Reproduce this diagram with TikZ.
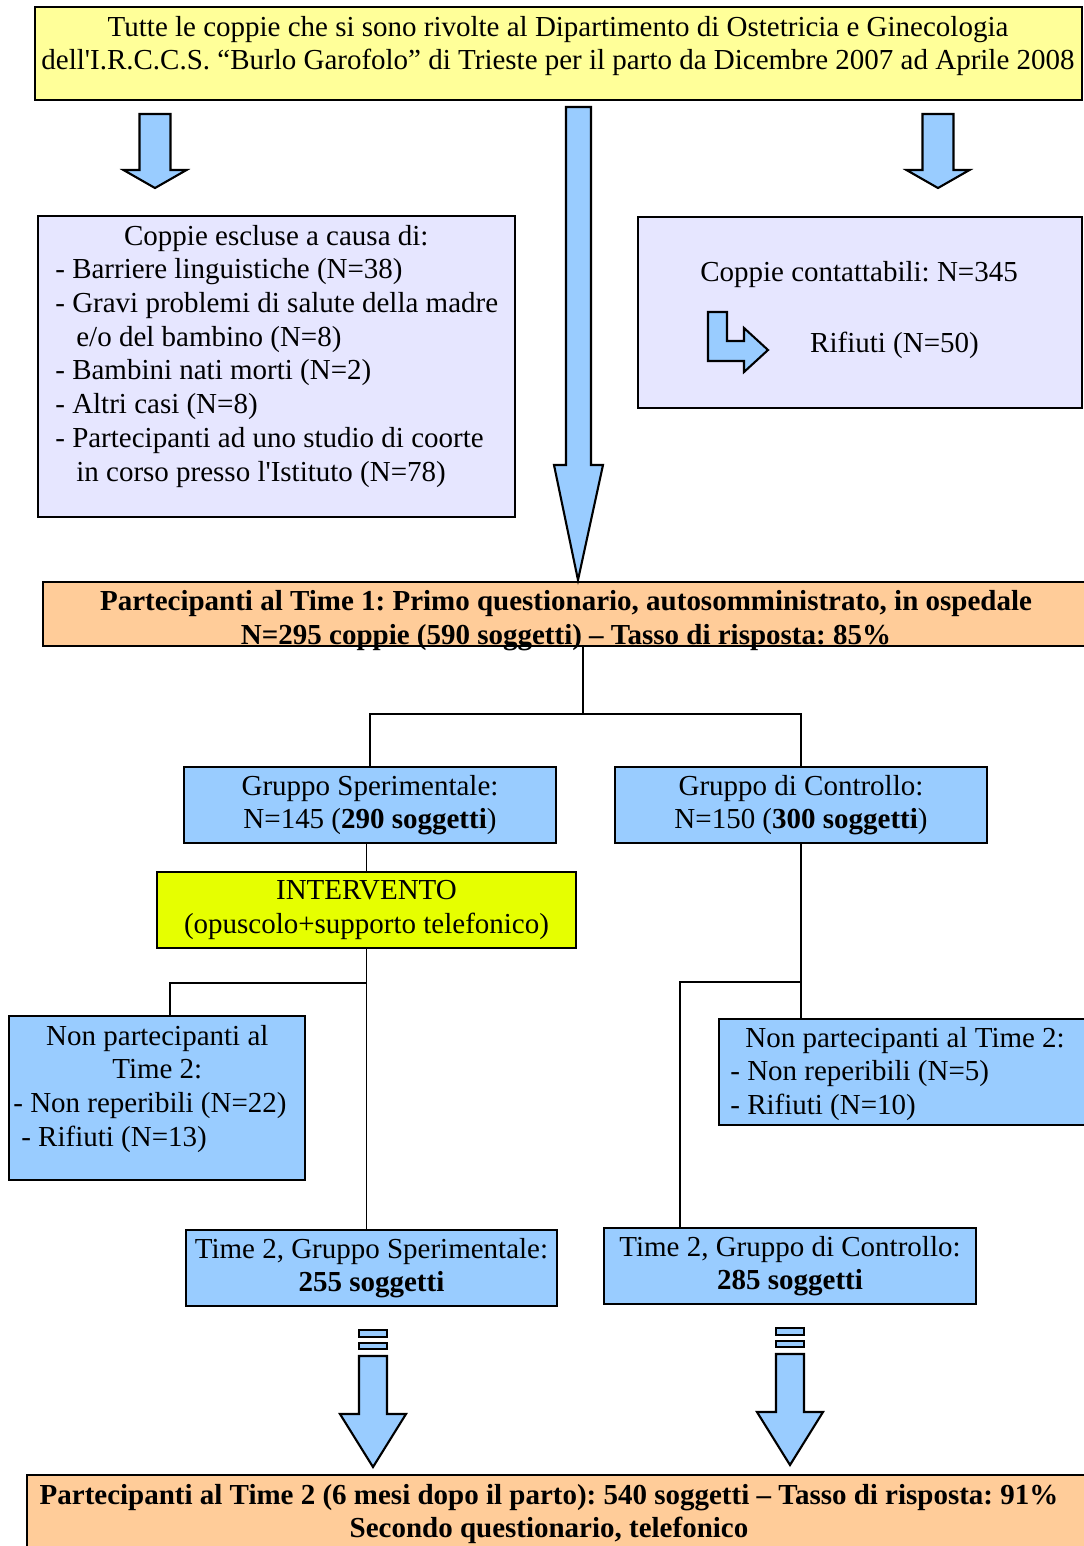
\documentclass[tikz,border=0pt]{standalone}
\usepackage{fontspec}
\setmainfont{Liberation Serif}
\usetikzlibrary{positioning}
\definecolor{pale}{HTML}{FFFF99}
\definecolor{lilac}{HTML}{E6E6FF}
\definecolor{peach}{HTML}{FFCC99}
\definecolor{sky}{HTML}{99CCFF}
\definecolor{lime}{HTML}{E6FF00}
\newcommand{\flowfont}{\fontsize{16.5}{19.2}\selectfont}
\frenchspacing

\begin{document}
\begin{tikzpicture}[x=0.02cm, y=-0.02cm,
    box/.style={draw, line width=1.2pt, inner sep=0pt, align=center, font=\flowfont},
    txt/.style={inner sep=0pt, align=center, font=\flowfont},
    conn/.style={line width=0.9pt},
    blk/.style={draw, line width=1.2pt, fill=sky, line join=miter}
]
\useasboundingbox (0,0) rectangle (1083,1546);

% boxes
\node[box, fill=pale, minimum width=20.94cm, minimum height=1.86cm] (top) at (558.5,53.5) {};
\node[box, fill=lilac, minimum width=9.54cm, minimum height=6.02cm] (escl) at (276.5,366.5) {};
\node[box, fill=lilac, minimum width=8.88cm, minimum height=3.82cm] (contatt) at (860,312.5) {};
\node[box, fill=peach, minimum width=20.94cm, minimum height=1.28cm] (time1) at (566.5,614) {};
\node[box, fill=sky, minimum width=7.44cm, minimum height=1.52cm] (gs) at (370,805)
    {Gruppo Sperimentale:\\ N=145 (\textbf{290 soggetti})};
\node[box, fill=sky, minimum width=7.44cm, minimum height=1.52cm] (gc) at (801,805)
    {Gruppo di Controllo:\\ N=150 (\textbf{300 soggetti})};
\node[box, fill=lime, minimum width=8.38cm, minimum height=1.52cm] (interv) at (366.5,910)
    {INTERVENTO\\ (opuscolo+supporto telefonico)};
\node[box, fill=sky, minimum width=5.92cm, minimum height=3.28cm] (npl) at (157,1098) {};
\node[box, fill=sky, minimum width=7.42cm, minimum height=2.12cm] (npr) at (904.5,1072) {};
\node[box, fill=sky, minimum width=7.42cm, minimum height=1.52cm] (t2gs) at (371.5,1268)
    {Time 2, Gruppo Sperimentale:\\ \textbf{255 soggetti}};
\node[box, fill=sky, minimum width=7.44cm, minimum height=1.52cm] (t2gc) at (790,1266)
    {Time 2, Gruppo di Controllo:\\ \textbf{285 soggetti}};
\node[box, fill=peach, minimum width=21.26cm, minimum height=1.7cm] (bottom) at (558.5,1517.5) {};

% texts
\node[txt] (toptext) at (558,46)
    {Tutte le coppie che si sono rivolte al Dipartimento di Ostetricia e Ginecologia\\
     dell\textquotesingle I.R.C.C.S. “Burlo Garofolo” di Trieste per il parto da Dicembre 2007 ad Aprile 2008};
\node[txt, anchor=base west] (escltext) at (55,245) {\begin{tabular}[t]{@{}l@{}}
    \makebox[8.84cm]{Coppie escluse a causa di:}\\
    - Barriere linguistiche (N=38)\\
    - Gravi problemi di salute della madre\\
    \hspace*{0.42cm}e/o del bambino (N=8)\\
    - Bambini nati morti (N=2)\\
    - Altri casi (N=8)\\
    - Partecipanti ad uno studio di coorte\\
    \hspace*{0.42cm}in corso presso l\textquotesingle Istituto (N=78)
    \end{tabular}};
\node[txt] (contatttext) at (859,275) {Coppie contattabili: N=345};
\node[txt] (rifiuti) at (894.5,345) {Rifiuti (N=50)};
\node[txt, font=\flowfont\bfseries] (time1text) at (566,620.5)
    {Partecipanti al Time 1: Primo questionario, autosomministrato, in ospedale\\
     N=295 coppie (590 soggetti) -- Tasso di risposta: 85\%};
\node[txt, anchor=base west] (npltext) at (13,1045) {\begin{tabular}[t]{@{}l@{}}
    \makebox[5.76cm]{Non partecipanti al}\\
    \makebox[5.76cm]{Time 2:}\\
    - Non reperibili (N=22)\\
    \hspace*{0.16cm}- Rifiuti (N=13)
    \end{tabular}};
\node[txt, anchor=base west] (nprtext) at (730,1047) {\begin{tabular}[t]{@{}l@{}}
    \hspace*{0.3cm}Non partecipanti al Time 2:\\
    - Non reperibili (N=5)\\
    - Rifiuti (N=10)
    \end{tabular}};
\node[txt, font=\flowfont\bfseries] (bottomtext) at (549,1514)
    {Partecipanti al Time 2 (6 mesi dopo il parto): 540 soggetti -- Tasso di risposta: 91\%\\
     Secondo questionario, telefonico};

% block arrows
\foreach \x in {155,938}
    \draw[blk] (\x-15.5,114) -- (\x+15.5,114) -- (\x+15.5,170) -- (\x+31.5,170)
        -- (\x,188) -- (\x-31.5,170) -- (\x-15.5,170) -- cycle;
\draw[blk] (566,107) -- (591,107) -- (591,465) -- (603,465) -- (578,580)
    -- (554,465) -- (566,465) -- cycle;
\draw[blk] (708,312) -- (727,312) -- (727,341) -- (744,341) -- (744,328) -- (768,350)
    -- (744,372) -- (744,361) -- (708,361) -- cycle;
\foreach \x/\y in {373/1330,790/1328} {
    \draw[blk] (\x-14,\y) rectangle (\x+14,\y+7);
    \draw[blk] (\x-14,\y+13) rectangle (\x+14,\y+19);
    \draw[blk] (\x-14,\y+26) -- (\x+14,\y+26) -- (\x+14,\y+84) -- (\x+33,\y+84)
        -- (\x,\y+137) -- (\x-33,\y+84) -- (\x-14,\y+84) -- cycle;
}

% connectors
\coordinate (fork1) at (583,714);
\draw[conn] (fork1 |- time1.south) -- (fork1);
\draw[conn] (gs.north) |- (fork1) -| (gc.north);
\draw[conn] (interv.north) -- (interv.north |- gs.south);
\draw[conn] (interv.south) -- (interv.south |- t2gs.north);
\coordinate (fork2) at (366.5,983);
\draw[conn] (fork2) -| ([xshift=0.26cm]npl.north);
\draw[conn] (gc.south) -- (gc.south |- npr.north);
\coordinate (fork3) at (801,982);
\draw[conn] (fork3) -| ([xshift=-2.2cm]t2gc.north);
\end{tikzpicture}
\end{document}
